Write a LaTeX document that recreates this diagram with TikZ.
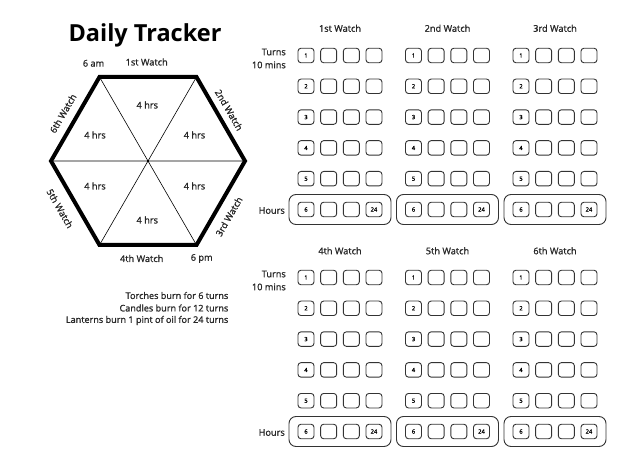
\documentclass[tikz,border=0pt]{standalone}
\usepackage{fontspec}
\setmainfont{Open Sans}
\newfontfamily\semib{Open Sans}[FakeBold=1.2]
\begin{document}
\begin{tikzpicture}[x=1pt,y=-1pt,
  lbl/.style={font=\semib\fontsize{9.2}{13}\selectfont, inner sep=0pt, text=black!85},
  note/.style={font=\semib\fontsize{9.1}{10}\selectfont, inner sep=0pt, anchor=east, text=black!85},
  cell/.style={draw=black!80, rounded corners=3pt, minimum width=16pt, minimum height=14.5pt, inner sep=0pt, line width=0.9pt, font=\semib\fontsize{5.8}{6}\selectfont},
  hrsbox/.style={draw=black!80, rounded corners=7pt, line width=0.9pt, minimum width=102pt, minimum height=30pt, inner sep=0pt},
  hexthin/.style={line width=0.6pt},
  hexthick/.style={line width=4pt, line join=miter}]
\useasboundingbox (0,0) rectangle (640,470);
% title
\node[font=\bfseries\fontsize{23.5}{25}\selectfont, inner sep=0pt] (title) at (145,35) {Daily Tracker};
% hexagon
\coordinate (v1) at (99.5,77);
\coordinate (v2) at (196.5,77);
\coordinate (v3) at (245,161);
\coordinate (v4) at (196.5,245);
\coordinate (v5) at (99.5,245);
\coordinate (v6) at (51,161);
\draw[hexthin] (v1)--(v4) (v2)--(v5) (v3)--(v6);
\draw[hexthick] (v1)--(v2)--(v3)--(v4)--(v5)--(v6)--cycle;
% hexagon labels
\node[lbl] (am) at (93.5,63.3) {6 am};
\node[lbl] (w1) at (146.7,62) {1st Watch};
\node[lbl, rotate=-60] (w2) at (229,110) {2nd Watch};
\node[lbl, rotate=60] (w3) at (229,216.5) {3rd Watch};
\node[lbl] (w4) at (141.7,258.5) {4th Watch};
\node[lbl] (pm) at (201.7,258.5) {6 pm};
\node[lbl, rotate=-60] (w5) at (60,208.5) {5th Watch};
\node[lbl, rotate=60] (w6) at (63,113.5) {6th Watch};
\node[lbl] (h1) at (147.3,105) {4 hrs};
\node[lbl] (h2) at (194.5,135) {4 hrs};
\node[lbl] (h3) at (194.5,186) {4 hrs};
\node[lbl] (h4) at (147.3,220) {4 hrs};
\node[lbl] (h5) at (95,186) {4 hrs};
\node[lbl] (h6) at (95,135) {4 hrs};
% notes
\node[note] (n1) at (228.5,295.5) {Torches burn for 6 turns};
\node[note] (n2) at (228.5,308) {Candles burn for 12 turns};
\node[note] (n3) at (228.5,320.5) {Lanterns burn 1 pint of oil for 24 turns};
% watch titles
\node[lbl] (t1) at (340,28.3) {1st Watch};
\node[lbl] (t2) at (447.5,28.3) {2nd Watch};
\node[lbl] (t3) at (555,28.3) {3rd Watch};
\node[lbl] (t4) at (340,250.8) {4th Watch};
\node[lbl] (t5) at (447.5,250.8) {5th Watch};
\node[lbl] (t6) at (555,250.8) {6th Watch};
% grids
\foreach \s/\yo in {0/0,1/222}{
  \foreach \c/\gx in {0/298,1/405.5,2/513}{
    \foreach \r in {1,...,5}{
      \foreach \k/\dx in {0/8,1/30.67,2/53.33,3/76}{
        \node[cell] (c\s\c\r\k) at ({\gx+\dx},{55.5+\yo+(\r-1)*30.8}) {\ifnum\k=0 \r\fi};
      }
    }
    \node[hrsbox] (hb\s\c) at ({\gx+42},{209.5+\yo}) {};
    \foreach \k/\dx/\t in {0/8/6,1/30.67/{},2/53.33/{},3/76/24}{
      \node[cell] (hc\s\c\k) at ({\gx+\dx},{209.5+\yo}) {\t};
    }
  }
  \node[lbl, align=right, anchor=east] (turns\s) at (286,{58.5+\yo}) {Turns\\10 mins};
  \node[lbl, anchor=east] (hours\s) at (285,{210.5+\yo}) {Hours};
}
\end{tikzpicture}
\end{document}
